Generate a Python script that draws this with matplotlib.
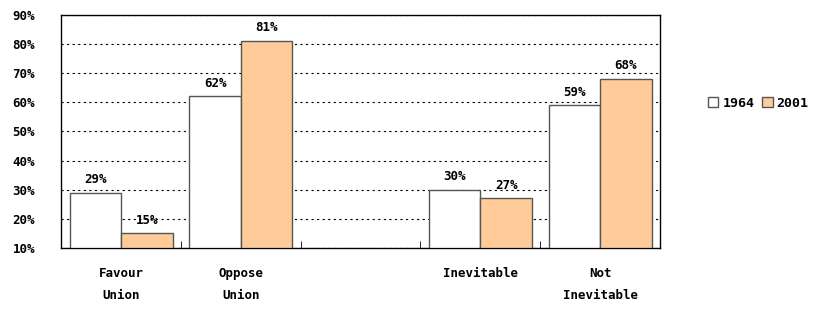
import matplotlib.pyplot as plt
import numpy as np

categories = ["Favour\nUnion", "Oppose\nUnion", "", "Inevitable", "Not\nInevitable"]
v1964 = [29, 62, None, 30, 59]
v2001 = [15, 81, None, 27, 68]

plt.rcParams['font.family'] = 'DejaVu Sans Mono'
plt.rcParams['font.weight'] = 'bold'
plt.rcParams['font.size'] = 9

fig = plt.figure(figsize=(8.26, 3.10), dpi=100)
ax = fig.add_axes([0.074, 0.2, 0.725, 0.752])

x = np.arange(len(categories))
w = 0.43
base = 10
for i in range(len(categories)):
    if v1964[i] is None:
        continue
    ax.bar(x[i] - w / 2, v1964[i] - base, w, bottom=base, color="white", edgecolor="#555555", linewidth=1,
           label="1964" if i == 0 else None, zorder=3)
    ax.bar(x[i] + w / 2, v2001[i] - base, w, bottom=base, color="#ffcc99", edgecolor="#555555", linewidth=1,
           label="2001" if i == 0 else None, zorder=3)
    ax.text(x[i] - w / 2, v1964[i] + 2.3, f"{v1964[i]}%", ha="center", va="bottom", fontsize=9, zorder=4)
    ax.text(x[i] + w / 2, v2001[i] + 2.3, f"{v2001[i]}%", ha="center", va="bottom", fontsize=9, zorder=4)

ax.set_xlim(-0.5, 4.5)
ax.set_ylim(10, 90)
ax.set_yticks(range(10, 91, 10))
ax.set_yticklabels([f"{t}%" for t in range(10, 91, 10)])
ax.yaxis.grid(True, color="black", linestyle=(0, (2, 3)), linewidth=0.8)
ax.set_axisbelow(True)
ax.tick_params(axis="y", length=0, pad=35)
for lab in ax.get_yticklabels():
    lab.set_horizontalalignment("left")

ax.set_xticks(x)
ax.set_xticklabels(categories, linespacing=1.9)
ax.set_xticks(np.arange(0.5, 4.5, 1), minor=True)
ax.tick_params(axis="x", which="major", length=0, pad=14)
ax.tick_params(axis="x", which="minor", direction="in", length=5)

for s in ax.spines.values():
    s.set_linewidth(1)

ax.legend(loc="center left", bbox_to_anchor=(1.06, 0.62), ncol=2, frameon=False,
          handlelength=0.8, handleheight=0.8, handletextpad=0.3, columnspacing=0.6, fontsize=9.5)

fig.savefig("out.png", dpi=100)
